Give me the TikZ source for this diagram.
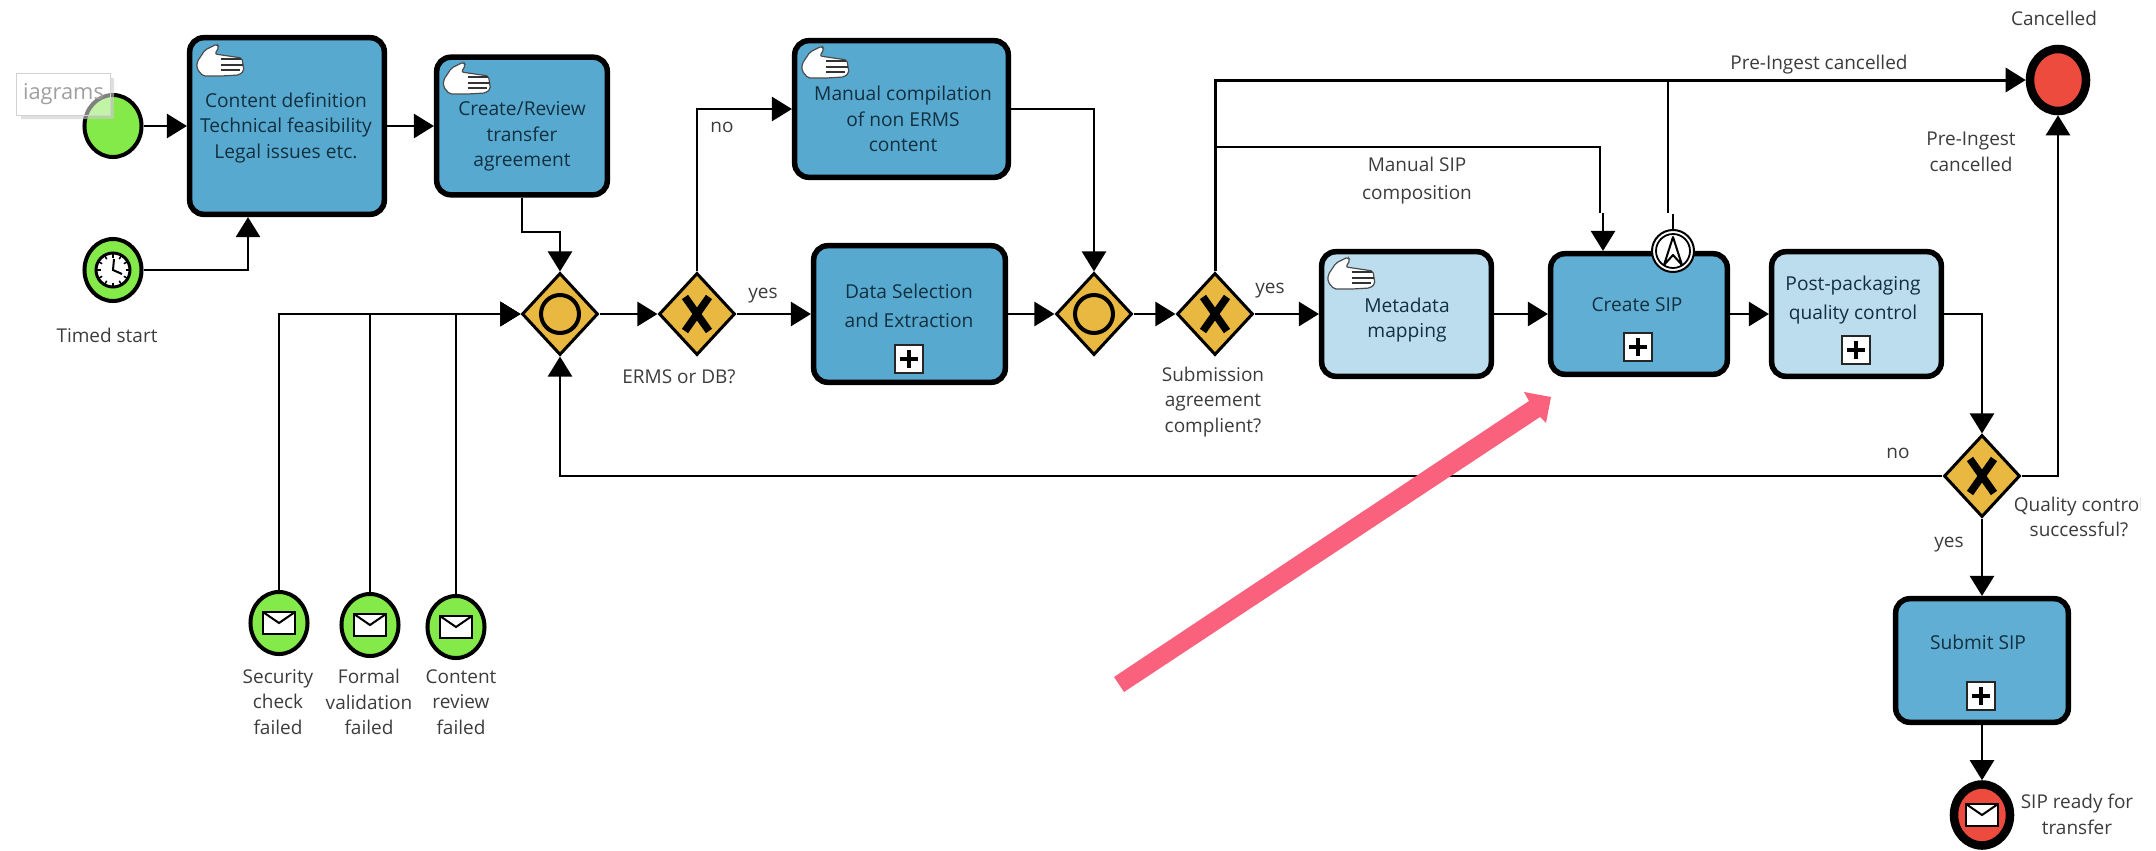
\documentclass[tikz,border=0pt]{standalone}
\usepackage{fontspec}
\setmainfont{Open Sans}
\definecolor{TaskBlue}{HTML}{58A9D0}
\definecolor{SubBlue}{HTML}{60AED3}
\definecolor{PaleBlue}{HTML}{BBDDED}
\definecolor{EventGreen}{HTML}{84EA4A}
\definecolor{GateGold}{HTML}{E8B840}
\definecolor{EndRed}{HTML}{EE4B3F}
\definecolor{NotePink}{HTML}{F9617C}
\definecolor{LabelGrey}{HTML}{3C3C3C}
\definecolor{TaskInk}{HTML}{12303F}
\usetikzlibrary{calc,arrows.meta,shapes.geometric}
\tikzset{
    taskbox/.style={draw=black, fill=TaskBlue, rectangle, rounded corners=0.14cm, line width=0.055cm, inner sep=0pt},
    subbox/.style={taskbox, fill=SubBlue},
    palebox/.style={taskbox, fill=PaleBlue},
    gateway/.style={draw=black, fill=GateGold, diamond, inner sep=0pt, minimum width=0.76cm, minimum height=0.82cm, line width=0.03cm},
    startevent/.style={draw=black, fill=EventGreen, ellipse, inner sep=0pt, minimum width=0.57cm, minimum height=0.62cm, line width=0.04cm},
    endevent/.style={draw=black, fill=EndRed, ellipse, inner sep=0pt, minimum width=0.56cm, minimum height=0.61cm, line width=0.085cm},
    escevent/.style={draw=black, fill=white, circle, inner sep=0pt, minimum size=0.42cm, line width=0.02cm},
    tasktext/.style={align=center, inner sep=0pt, text=TaskInk, font=\fontsize{5.45}{7.25}\selectfont},
    labeltext/.style={align=center, inner sep=0pt, text=LabelGrey, font=\fontsize{5.4}{7.3}\selectfont},
    tabbox/.style={draw=gray!35, line width=0.01cm, fill=white, fill opacity=0.5, text opacity=1, text=gray!75, inner sep=0pt, minimum width=0.93cm, minimum height=0.41cm, font=\fontsize{6.2}{7.2}\selectfont},
    flowline/.style={draw=black, line width=0.025cm},
    flowarrow/.style={flowline, -{Triangle[length=0.2cm,width=0.24cm]}},
    xmark/.style={draw=black, line width=0.075cm},
    ormark/.style={draw=black, line width=0.04cm},
    plusmark/.pic={
        \draw[fill=white, draw=black!85, line width=0.02cm] (-14,-14) rectangle (14,14);
        \draw[black, line width=0.045cm] (-9,0) -- (9,0) (0,-9) -- (0,9);
    },
    envmark/.pic={
        \draw[fill=white, draw=black, line width=0.025cm] (-16,-11) rectangle (16,11);
        \draw[black, line width=0.02cm] (-16,-11) -- (0,0) -- (16,-11);
    },
    handmark/.pic={
        \draw[fill=white, draw=black!70, line width=0.012cm, rounded corners=0.02cm]
            (12,27) -- (20,15) -- (32,9) -- (34,12) -- (30,19) -- (57,23) -- (59,36) -- (54,40) -- (36,41) -- (18,41) -- (12,34) -- cycle;
        \draw[black!80, line width=0.02cm] (36,24) -- (56,24) (36,30) -- (58,30) (36,35) -- (55,35);
    },
    clockmark/.pic={
        \draw[fill=white, draw=black, line width=0.03cm] (0,0) circle (17);
        \foreach \a in {0,30,...,330}
            \draw[black, line width=0.015cm] (\a:12.5) -- (\a:17);
        \draw[black, line width=0.02cm] (1,-11) -- (0,0) -- (9,4);
    },
}

\begin{document}
\begin{tikzpicture}[x=0.01cm,y=-0.01cm]
    \useasboundingbox (0,0) rectangle (2156,851);

    % events on the left
    \node[startevent] (startplain) at (113,126) {};
    \node[startevent] (starttimer) at (113,270) {};
    \pic at (113,270) {clockmark};
    \node[labeltext] (timerlbl) at (107,335) {Timed start};

    % tasks
    \node[taskbox, minimum width=1.945cm, minimum height=1.765cm] (contentdef) at (287,126) {};
    \node[taskbox, minimum width=1.705cm, minimum height=1.375cm] (reviewagr) at (522,126) {};
    \node[taskbox, minimum width=2.135cm, minimum height=1.365cm] (manualcomp) at (901.5,109) {};
    \node[taskbox, minimum width=1.915cm, minimum height=1.365cm] (dataselect) at (909.5,314) {};
    \node[palebox, minimum width=1.695cm, minimum height=1.245cm] (metamap) at (1406.5,314) {};
    \node[subbox, minimum width=1.765cm, minimum height=1.205cm] (createsip) at (1639,314) {};
    \node[palebox, minimum width=1.695cm, minimum height=1.245cm] (postqc) at (1856.5,314) {};
    \node[subbox, minimum width=1.725cm, minimum height=1.235cm] (submitsip) at (1982,660.5) {};

    \node[tasktext] (contenttxt) at (286,127.5) {Content definition\\Technical feasibility\\Legal issues etc.};
    \node[tasktext] (reviewtxt) at (522,136.5) {Create/Review\\transfer\\agreement};
    \node[tasktext] (manualtxt) at (903,119) {Manual compilation\\of non ERMS\\content};
    \node[tasktext] (datatxt) at (909,306) {Data Selection\\[1pt]and Extraction};
    \node[tasktext] (metatxt) at (1407,320) {Metadata\\mapping};
    \node[tasktext] (createtxt) at (1637,305) {Create SIP};
    \node[tasktext] (posttxt) at (1853,300) {Post-packaging\\[1pt]quality control};
    \node[tasktext] (submittxt) at (1978,642) {Submit SIP};

    \foreach \x/\y in {185/35, 431.5/53, 790/37, 1316/248}
        \pic at (\x,\y) {handmark};
    \foreach \x/\y in {909/359, 1638/347, 1856/350, 1981/696}
        \pic at (\x,\y) {plusmark};

    % gateways
    \node[gateway] (orjoin) at (560,314) {};
    \node[gateway] (xorerms) at (697,314) {};
    \node[gateway] (ormerge) at (1094,314) {};
    \node[gateway] (xorsub) at (1215,314) {};
    \node[gateway] (xorqc) at (1982,476) {};
    \foreach \g in {orjoin,ormerge}
        \draw[ormark] (\g.center) circle (19);
    \foreach \g in {xorerms,xorsub,xorqc}
        \draw[xmark] ([shift={(-12,-17)}]\g.center) -- ([shift={(12,17)}]\g.center)
                     ([shift={(12,-17)}]\g.center) -- ([shift={(-12,17)}]\g.center);

    % end events
    \node[endevent, minimum height=0.62cm] (endcancel) at (2058,80) {};
    \node[endevent] (endmsg) at (1982,815) {};
    \pic at (1982,815) {envmark};
    \node[escevent] (escsip) at (1673,251) {};
    \draw[black, line width=0.018cm] (escsip.center) circle (17);
    \draw[black, line width=0.02cm, line join=round] (1673,237) -- (1664,265) -- (1673,255) -- (1682,265) -- cycle;

    % message starts below the join
    \foreach \n/\x/\y/\lx/\txt in {1/279/623/278/{Security\\check\\failed}, 2/370/625/369/{Formal\\validation\\failed}, 3/456/627/461/{Content\\review\\failed}} {
        \node[startevent] (msg\n) at (\x,\y) {};
        \pic at (\x,\y) {envmark};
        \node[labeltext] (msglbl\n) at (\lx,702) {\txt};
        \draw[flowarrow] (msg\n.north) |- (orjoin.west);
    }

    % flows
    \draw[flowarrow] (startplain) -- (contentdef);
    \draw[flowarrow] (starttimer.east) -| (contentdef.south -| 248,0);
    \draw[flowarrow] (contentdef) -- (reviewagr);
    \coordinate (bendagr) at (522,232);
    \draw[flowarrow] (reviewagr.south) -- (bendagr) -| (orjoin.north);
    \draw[flowarrow] (orjoin) -- (xorerms);
    \draw[flowarrow] (xorerms.north) |- (manualcomp.west);
    \draw[flowarrow] (xorerms) -- (dataselect);
    \draw[flowarrow] (manualcomp.east) -| (ormerge.north);
    \draw[flowarrow] (dataselect) -- (ormerge);
    \draw[flowarrow] (ormerge) -- (xorsub);
    \draw[flowarrow] (xorsub) -- (metamap);
    \draw[flowarrow] (metamap) -- (createsip);
    \draw[flowarrow] (createsip) -- (postqc);
    \draw[flowarrow] (postqc.east) -| (xorqc.north);
    \draw[flowarrow] (xorqc) -- (submitsip);
    \draw[flowarrow] (submitsip) -- (endmsg);
    \draw[flowarrow] (xorqc.west) -| (orjoin.south);
    \draw[flowarrow] (xorqc.east) -| (endcancel.south);
    \draw[flowarrow, line width=0.03cm] (xorsub.north) |- (endcancel.west);

    % manual branch and escalation, both with the small jog
    \coordinate (manualtop) at (1215,147);
    \coordinate (manualjog) at (1600,213);
    \coordinate (manualin) at (1603,213);
    \draw[flowline] (manualtop) -| (manualjog);
    \draw[flowarrow] (manualin) -- (manualin |- createsip.north);
    \coordinate (escjog) at (1668,213);
    \coordinate (escout) at (1673,214);
    \draw[flowline] (escsip.north) -- (escout);
    \draw[flowline] (escjog) -- (escjog |- endcancel);

    % labels
    \node[labeltext] (canceltop) at (2054,18) {Cancelled};
    \node[labeltext] (preingesta) at (1819,65) {Pre-Ingest cancelled};
    \node[labeltext] (preingestb) at (1971,152) {Pre-Ingest\\cancelled};
    \node[labeltext] (manualsip) at (1417,180.5) {Manual SIP\\[0.6pt]composition};
    \node[labeltext] (nolbla) at (722,127) {no};
    \node[labeltext] (yeslbla) at (763,296) {yes};
    \node[labeltext] (ermslbl) at (679,377) {ERMS or DB?};
    \node[labeltext] (yeslblb) at (1270,291) {yes};
    \node[labeltext] (sublbl) at (1213,402) {Submission\\agreement\\complient?};
    \node[labeltext] (nolblc) at (1898,453) {no};
    \node[labeltext] (yeslblc) at (1949,545) {yes};
    \node[labeltext] (readylbl) at (2077,814.5) {SIP ready for\\transfer};
    \begin{scope}
        \clip (2000,485) rectangle (2140,545);
        \node[labeltext] (qualitylbl) at (2079,517) {Quality control\\successful?};
    \end{scope}

    % pink pointer
    \fill[NotePink] (1114,677) -- (1529,401) -- (1524,392) -- (1551,397) -- (1546,423) -- (1540,417) -- (1124,692) -- cycle;

    % leftover tab at the edge
    \fill[gray!40, opacity=0.6] (21,115) -- (110,115) -- (110,78) -- (114,78) -- (114,119) -- (21,119) -- cycle;
    \node[tabbox] (tabedge) at (63.5,94.5) {iagrams\hspace{0.07cm}};
\end{tikzpicture}
\end{document}
